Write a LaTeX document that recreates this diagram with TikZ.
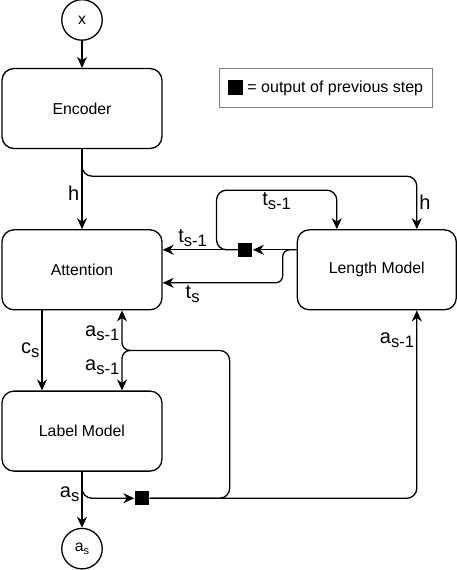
\documentclass[tikz,border=0pt]{standalone}
\usepackage{fontspec}
\setmainfont{Liberation Sans}
\usetikzlibrary{positioning,arrows.meta}
\newcommand{\lowsub}[1]{\raisebox{-0.2em}{\fontsize{16.6}{18}\selectfont #1}}
\newcommand{\tinysub}[1]{\raisebox{-0.2em}{\fontsize{11}{12}\selectfont #1}}

\begin{document}
\begin{tikzpicture}[x=1pt,y=1pt,line width=1.3pt,
    boxnode/.style={draw, rounded corners=12pt, minimum width=160pt, minimum height=80pt, font=\fontsize{15.8}{19}\selectfont},
    roundnode/.style={circle, draw, minimum size=40.5pt, inner sep=0pt, font=\fontsize{15.8}{19}\selectfont},
    prevnode/.style={fill=black, minimum size=14pt, inner sep=0pt},
    edgelabel/.style={font=\fontsize{20}{24}\selectfont, inner sep=2pt},
    arr/.style={-{Stealth[length=11pt,width=10pt,inset=3.5pt]}}]
        \useasboundingbox (0,0) rectangle (457,-570);
        %Nodes
        \node[boxnode]      (enc)    at (82,-108.5)         {Encoder};
        \node[roundnode]    (x)      [above=27pt of enc]    {x};
        \node[boxnode]      (att)    [below=80pt of enc]    {Attention};
        \node[boxnode, minimum width=159pt] (len) [right=134pt of att] {Length Model};
        \node[boxnode]      (lab)    [below=80pt of att]    {Label Model};
        \node[roundnode]    (as)     [below=56pt of lab]    {a\tinysub{s}};
        \node[draw=black!50, line width=0.8pt, minimum width=213pt, minimum height=39pt, font=\fontsize{16}{19}\selectfont, anchor=north west] (legend) at ([xshift=56pt]enc.north east) {\rule[-3pt]{15pt}{15pt} = output of previous step};
        \node[prevnode]     (prevt)  at ([xshift=-51.5pt,yshift=20pt]len.west) {};
        \node[prevnode]     (preva)  at ([xshift=60pt,yshift=-26.5pt]lab.south) {};
        \coordinate (join) at ([xshift=48pt,yshift=-40pt]att.south);
        %Lines
        \draw[arr] (x) -- (enc);
        \draw[arr] (enc) -- node[edgelabel, left, pos=0.55] {h} (att);
        \draw[arr, rounded corners=10pt] (enc.south) |- ([xshift=40pt,yshift=53pt]len.north) -- node[edgelabel, right] {h} ([xshift=40pt]len.north);
        \draw[arr] ([yshift=20pt]len.west) -- (prevt);
        \draw[arr] (prevt) -- node[edgelabel, above, pos=0.6] {t\lowsub{s-1}} ([yshift=20pt]att.east);
        \draw[arr, rounded corners=10pt] (prevt.west) -- ++(-21pt,0) |- node[edgelabel, below, pos=0.75] {t\lowsub{s-1}} ([xshift=-40pt,yshift=39pt]len.north) -- ([xshift=-40pt]len.north);
        \draw[arr, rounded corners=7pt] ([yshift=20pt]len.west) -| ([xshift=-14pt,yshift=-13pt]len.west) -- node[edgelabel, below, pos=0.75] {t\lowsub{s}} ([yshift=-13pt]att.east);
        \draw[arr] ([xshift=-40pt]att.south) -- node[edgelabel, left] {c\lowsub{s}} ([xshift=-40pt]lab.north);
        \draw[arr] (lab) -- node[edgelabel, left, pos=0.4] {a\lowsub{s}} (as);
        \draw[arr, rounded corners=10pt] (lab.south) |- (preva);
        \draw[arr, rounded corners=10pt] (preva) -| node[edgelabel, left, pos=0.92] {a\lowsub{s-1}} ([xshift=40pt]len.south);
        \draw[rounded corners=10pt] (preva.east) -- ([xshift=80pt]preva.east) |- (join);
        \draw[arr, rounded corners=8pt] (join) -| node[edgelabel, left, pos=0.72] {a\lowsub{s-1}} ([xshift=40pt]att.south);
        \draw[arr, rounded corners=8pt] (join) -| node[edgelabel, left, pos=0.71] {a\lowsub{s-1}} ([xshift=40pt]lab.north);
    \end{tikzpicture}
\end{document}
